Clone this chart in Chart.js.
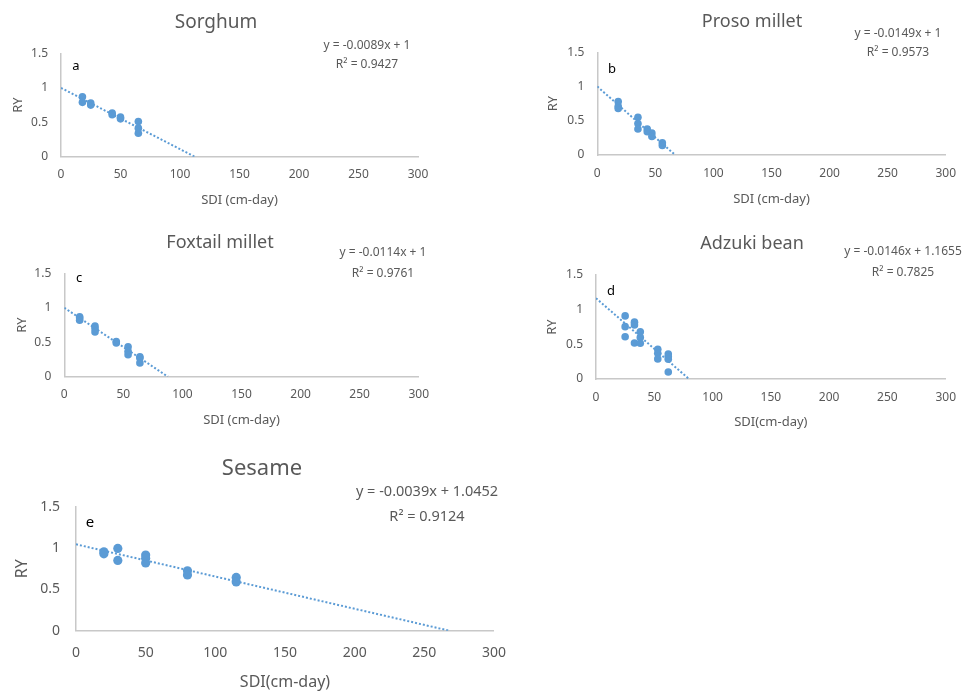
<!DOCTYPE html>
<html>
<head>
<meta charset="utf-8">
<script src="https://cdn.jsdelivr.net/npm/chart.js@4.4.1/dist/chart.umd.min.js"></script>
<style>
  body { margin: 0; background: #fff; width: 967px; height: 692px; position: relative; overflow: hidden; }
  canvas { position: absolute; }
</style>
</head>
<body>
<canvas id="chartA"></canvas>
<canvas id="chartB"></canvas>
<canvas id="chartC"></canvas>
<canvas id="chartD"></canvas>
<canvas id="chartE"></canvas>
<script>
// values
const cropNames = ['Sorghum', 'Proso millet', 'Foxtail millet', 'Adzuki bean', 'Sesame'];
const panelLetters = ['a', 'b', 'c', 'd', 'e'];
const xTitles = ['SDI (cm-day)', 'SDI (cm-day)', 'SDI (cm-day)', 'SDI(cm-day)', 'SDI(cm-day)'];

const sorghumX = [18, 18, 25, 25, 43, 43, 50, 50, 65, 65, 65];
const sorghumY = [0.87, 0.79, 0.78, 0.75, 0.635, 0.61, 0.575, 0.55, 0.51, 0.415, 0.34];

const prosoX = [18, 18, 18, 35, 35, 35, 43, 43, 47, 47, 56, 56];
const prosoY = [0.78, 0.71, 0.68, 0.55, 0.46, 0.38, 0.38, 0.34, 0.32, 0.27, 0.18, 0.14];

const foxtailX = [13, 13, 13, 26, 26, 26, 44, 44, 54, 54, 54, 64, 64, 64];
const foxtailY = [0.87, 0.85, 0.82, 0.735, 0.70, 0.65, 0.51, 0.49, 0.435, 0.37, 0.32, 0.29, 0.27, 0.20];

const adzukiX = [25, 25, 25, 33, 33, 33, 38, 38, 38, 53, 53, 53, 62, 62, 62, 62];
const adzukiY = [0.91, 0.755, 0.61, 0.82, 0.78, 0.52, 0.68, 0.60, 0.515, 0.43, 0.37, 0.29, 0.36, 0.32, 0.285, 0.10];

const sesameX = [20, 20, 30, 30, 50, 50, 50, 80, 80, 115, 115];
const sesameY = [0.955, 0.93, 0.995, 0.85, 0.915, 0.875, 0.82, 0.725, 0.675, 0.645, 0.59];

// trendline equations printed on each panel
const slopes = [-0.0089, -0.0149, -0.0114, -0.0146, -0.0039];
const intercepts = [1, 1, 1, 1.1655, 1.0452];
const r2Values = [0.9427, 0.9573, 0.9761, 0.7825, 0.9124];

const xTickValues = [0, 50, 100, 150, 200, 250, 300];
const yTickValues = [0, 0.5, 1, 1.5];

const seriesX = [sorghumX, prosoX, foxtailX, adzukiX, sesameX];
const seriesY = [sorghumY, prosoY, foxtailY, adzukiY, sesameY];

const BLUE = '#5B9BD5';
const GREY = '#595959';
const FONT = "'Noto Sans', sans-serif";

// layout of each panel in page pixels
const panels = [
    { id: 'chartA', box: [0, 0, 440, 215], area: [61, 418, 53.5, 156.7], title: [216, 23, 19], eq: [367, 46, 65, 12],
      letter: [76, 66, 13], ry: 18, sdi: 200, tick: 12, axisFont: 13, r: 3.8, tickPadX: 11, tickPadY: 13 },
    { id: 'chartB', box: [520, 0, 447, 215], area: [597.3, 954, 52.3, 155], title: [752, 22, 18], eq: [898, 34, 53, 12],
      letter: [612, 69, 13], ry: 553, sdi: 199, tick: 12, axisFont: 13, r: 3.8, tickPadX: 11, tickPadY: 13 },
    { id: 'chartC', box: [0, 220, 440, 215], area: [64.3, 422.7, 273.3, 376.7], title: [220, 243, 18], eq: [383, 253, 274, 12],
      letter: [79, 278, 13], ry: 22, sdi: 420, tick: 12, axisFont: 13, r: 3.8, tickPadX: 11, tickPadY: 13 },
    { id: 'chartD', box: [520, 220, 447, 215], area: [596, 955, 275, 379], title: [752, 244, 18], eq: [903, 252, 273, 12],
      letter: [611, 291, 13], ry: 552, sdi: 422, tick: 12, axisFont: 13, r: 3.8, tickPadX: 11, tickPadY: 13 },
    { id: 'chartE', box: [0, 440, 520, 252], area: [76, 506, 506.7, 630.7], title: [262, 469, 22], eq: [427, 492, 517, 14.5],
      letter: [90, 523, 15], ry: 22, sdi: 684, tick: 14, axisFont: 16, r: 4.6, tickPadX: 14, tickPadY: 16 }
];

// draws the chart title, the equation label and the panel letter
const panelText = {
    id: 'panelText',
    afterDraw(chart, args, opts) {
        const p = opts.panel, i = opts.index;
        const ctx = chart.ctx;
        const ox = p.box[0], oy = p.box[1];
        ctx.save();
        ctx.textAlign = 'center';
        ctx.textBaseline = 'middle';
        ctx.fillStyle = GREY;
        ctx.font = p.title[2] + 'px ' + FONT;
        ctx.fillText(cropNames[i], p.title[0] - ox, p.title[1] - oy);
        ctx.font = p.eq[3] + 'px ' + FONT;
        ctx.fillText('y = ' + slopes[i] + 'x + ' + intercepts[i], p.eq[0] - ox, p.eq[1] - oy);
        ctx.fillText('R\u00B2 = ' + r2Values[i], p.eq[0] - ox, p.eq[2] - oy);
        ctx.fillStyle = '#000';
        ctx.font = p.letter[2] + 'px ' + FONT;
        ctx.fillText(panelLetters[i], p.letter[0] - ox, p.letter[1] - oy);
        ctx.restore();
    }
};

panels.forEach(function (p, i) {
    const [L, T, W, H] = p.box;
    const [aL, aR, aT, aB] = p.area;
    const canvas = document.getElementById(p.id);
    canvas.width = W;
    canvas.height = H;
    canvas.style.left = L + 'px';
    canvas.style.top = T + 'px';

    const lh = p.axisFont * 1.2;
    const points = seriesX[i].map((x, k) => ({ x: x, y: seriesY[i][k] }));
    const trend = [
        { x: 0, y: intercepts[i] },
        { x: -intercepts[i] / slopes[i], y: 0 }
    ];

    new Chart(canvas, {
        type: 'scatter',
        data: {
            datasets: [{
                type: 'line',
                data: trend,
                borderColor: BLUE,
                borderWidth: 2,
                borderDash: [2, 2],
                pointRadius: 0,
                fill: false
            }, {
                data: points,
                backgroundColor: BLUE,
                borderColor: BLUE,
                pointRadius: p.r,
                pointBorderWidth: 0
            }]
        },
        options: {
            responsive: false,
            animation: false,
            layout: { padding: { left: 0, top: aT - T, right: L + W - aR, bottom: 0 } },
            plugins: {
                legend: { display: false },
                tooltip: { enabled: false },
                panelText: { panel: p, index: i }
            },
            scales: {
                x: {
                    type: 'linear',
                    min: 0, max: 300,
                    afterFit(scale) { scale.height = T + H - aB; },
                    afterBuildTicks(scale) { scale.ticks = xTickValues.map(v => ({ value: v })); },
                    grid: { display: false, drawTicks: false },
                    border: { display: true, color: '#C8C8C8', width: 1.5 },
                    ticks: { color: GREY, padding: p.tickPadX, font: { family: FONT, size: p.tick },
                             callback: v => String(v) },
                    title: {
                        display: true, text: xTitles[i], color: GREY,
                        font: { family: FONT, size: p.axisFont },
                        padding: { top: 0, bottom: Math.max(0, T + H - lh / 2 - p.sdi) }
                    }
                },
                y: {
                    type: 'linear',
                    min: 0, max: 1.5,
                    afterFit(scale) { scale.width = aL - L; },
                    afterBuildTicks(scale) { scale.ticks = yTickValues.map(v => ({ value: v })); },
                    grid: { display: false, drawTicks: false },
                    border: { display: true, color: '#C8C8C8', width: 1.5 },
                    ticks: { color: GREY, padding: p.tickPadY, font: { family: FONT, size: p.tick },
                             callback: v => String(v) },
                    title: {
                        display: true, text: 'RY', color: GREY,
                        font: { family: FONT, size: p.axisFont },
                        padding: { top: p.ry - L - lh / 2, bottom: 0 }
                    }
                }
            }
        },
        plugins: [panelText]
    });
});
</script>
</body>
</html>
